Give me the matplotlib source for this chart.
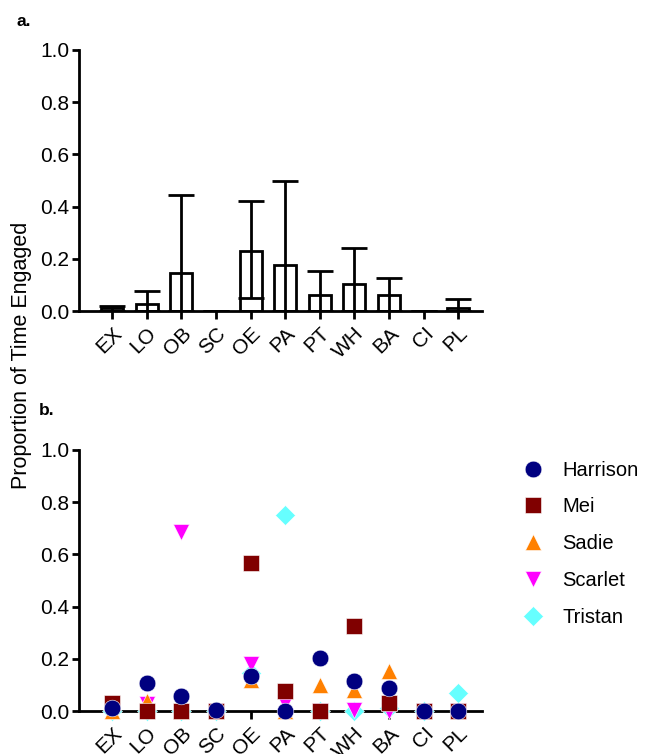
import numpy as np
import matplotlib
matplotlib.use("Agg")
import matplotlib.pyplot as plt

plt.rcParams['font.family'] = ['Liberation Sans', 'DejaVu Sans']

categories = ['EX', 'LO', 'OB', 'SC', 'OE', 'PA', 'PT', 'WH', 'BA', 'CI', 'PL']

# panel a: mean proportion and error bar ends
means = [0.01, 0.025, 0.145, 0.0, 0.23, 0.175, 0.06, 0.105, 0.06, 0.0, 0.01]
err_top = [0.02, 0.075, 0.445, 0.0, 0.42, 0.50, 0.155, 0.24, 0.125, 0.0, 0.045]
err_bottom = [0.0, 0.0, 0.0, 0.0, 0.05, 0.0, 0.0, 0.0, 0.0, 0.0, 0.0]

# panel b: individual animals
harrison = [0.01, 0.106, 0.059, 0.004, 0.134, 0.0, 0.202, 0.115, 0.087, 0.0, 0.0]
mei = [0.032, 0.0, 0.0, 0.0, 0.567, 0.078, 0.0, 0.326, 0.03, 0.0, 0.0]
sadie = [0.0, 0.04, 0.0, 0.0, 0.12, 0.0, 0.10, 0.08, 0.155, 0.0, 0.0]
scarlet = [0.0, 0.025, 0.685, 0.0, 0.18, 0.03, 0.0, 0.005, 0.0, 0.0, 0.0]
tristan = [0.0, 0.0, 0.0, 0.0, 0.145, 0.75, 0.0, 0.0, 0.01, 0.0, 0.07]

x = np.arange(len(categories))

fig = plt.figure(figsize=(6.45, 7.54), dpi=100)
ax1 = fig.add_axes([0.1225, 0.5875, 0.6243, 0.3462])
ax2 = fig.add_axes([0.1225, 0.057, 0.6243, 0.3462])


def style_axis(ax):
    ax.set_xlim(-0.96, 10.68)
    ax.set_ylim(0, 1.0)
    ax.set_yticks([0, 0.2, 0.4, 0.6, 0.8, 1.0])
    ax.set_yticklabels(['0.0', '0.2', '0.4', '0.6', '0.8', '1.0'])
    ax.set_xticks(x)
    ax.set_xticklabels(categories, rotation=45, ha='right', rotation_mode='anchor')
    for s in ['top', 'right']:
        ax.spines[s].set_visible(False)
    for s in ['left', 'bottom']:
        ax.spines[s].set_linewidth(2.0)
    ax.tick_params(axis='both', direction='out', width=2.0, labelsize=15)
    ax.tick_params(axis='x', length=6, pad=3)
    ax.tick_params(axis='y', length=5, pad=2)


lower = [m - b for m, b in zip(means, err_bottom)]
upper = [t - m for m, t in zip(means, err_top)]
ax1.bar(x, means, width=0.64, facecolor='white', edgecolor='black', linewidth=2.0, zorder=2)
ax1.errorbar(x, means, yerr=[lower, upper], fmt='none', ecolor='black',
             elinewidth=2.0, capsize=9.5, capthick=2.0, zorder=3)
style_axis(ax1)

series = [
    ('Tristan', tristan, 'D', '#66FFFF', 10.5),
    ('Scarlet', scarlet, 'v', '#FF00FF', 12),
    ('Sadie', sadie, '^', '#FF8000', 12),
    ('Mei', mei, 's', '#800000', 11),
    ('Harrison', harrison, 'o', '#000080', 12),
]
handles = {}
for name, vals, mk, col, ms in series:
    h, = ax2.plot(x, vals, linestyle='none', marker=mk, color=col, markersize=ms,
                  markeredgecolor='white', markeredgewidth=0.4, clip_on=False, zorder=3)
    handles[name] = h
style_axis(ax2)

order = ['Harrison', 'Mei', 'Sadie', 'Scarlet', 'Tristan']
fig.legend([handles[n] for n in order], order, loc='upper left',
           bbox_to_anchor=(0.78, 0.413), frameon=False, fontsize=14.5,
           handletextpad=0.85, labelspacing=0.88, handlelength=1.2)

fig.text(0.034, 0.529, 'Proportion of Time Engaged', rotation=90, fontsize=15.5,
         ha='center', va='center')
fig.text(0.025, 0.971, 'a.', fontsize=12.5, fontweight='bold', ha='left', va='center')
fig.text(0.06, 0.455, 'b.', fontsize=12.5, fontweight='bold', ha='left', va='center')

fig.savefig('out.png', dpi=100)
